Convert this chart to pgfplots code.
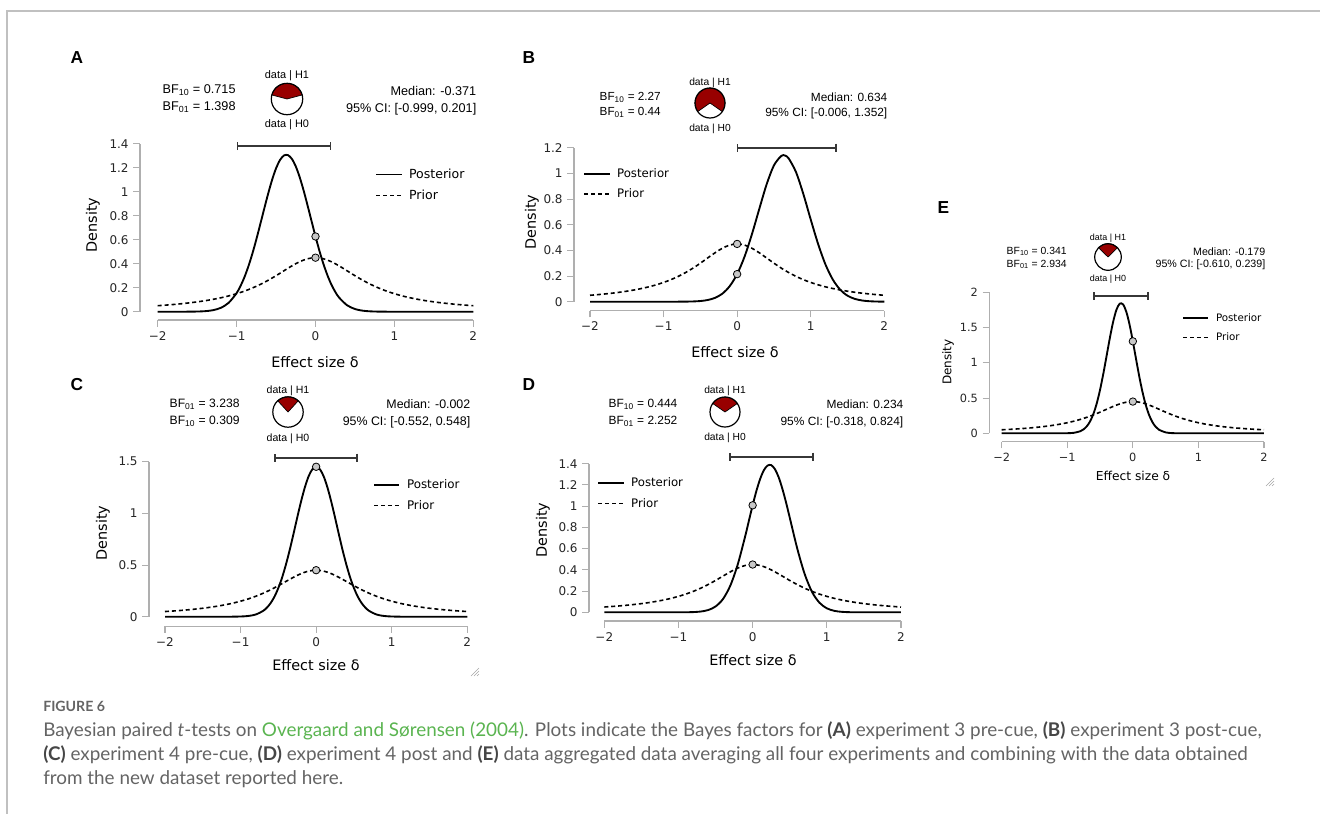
\documentclass[border=0pt]{standalone}
\usepackage{pgfplots}
\pgfplotsset{compat=1.18}
\usepackage{pgfplotstable}
\usepackage{fontspec}
\setmainfont{Liberation Sans}
\newfontfamily\djfont{DejaVu Sans}
\newfontfamily\capfont{Lato}
\usetikzlibrary{arrows.meta}

\definecolor{pied}{RGB}{152,0,0}
\definecolor{markgray}{RGB}{200,200,200}
\definecolor{axisgray}{RGB}{175,175,175}
\definecolor{bargray}{RGB}{55,55,55}
\definecolor{capgray}{RGB}{100,100,100}
\definecolor{capdark}{RGB}{70,70,70}
\definecolor{capgreen}{RGB}{90,180,80}
\definecolor{framegray}{RGB}{192,192,192}

% prior: Cauchy(0, 0.707), same in every panel
\pgfplotstableread{
x y
-2.0 0.0500
-1.9 0.0548
-1.8 0.0602
-1.7 0.0664
-1.6 0.0736
-1.5 0.0819
-1.4 0.0915
-1.3 0.1028
-1.2 0.1160
-1.1 0.1316
-1.0 0.1501
-0.9 0.1718
-0.8 0.1975
-0.7 0.2274
-0.6 0.2617
-0.5 0.3001
-0.4 0.3411
-0.3 0.3815
-0.2 0.4169
-0.1 0.4414
0.0 0.4502
0.1 0.4414
0.2 0.4169
0.3 0.3815
0.4 0.3411
0.5 0.3001
0.6 0.2617
0.7 0.2274
0.8 0.1975
0.9 0.1718
1.0 0.1501
1.1 0.1316
1.2 0.1160
1.3 0.1028
1.4 0.0915
1.5 0.0819
1.6 0.0736
1.7 0.0664
1.8 0.0602
1.9 0.0548
2.0 0.0500
}\prior

\pgfplotstableread{
x y
-2.0 0
-1.7 0
-1.6 0.0004
-1.5 0.0014
-1.4 0.0044
-1.3 0.0125
-1.2 0.0323
-1.1 0.0746
-1.0 0.155
-0.95 0.215
-0.9 0.289
-0.85 0.379
-0.8 0.484
-0.75 0.602
-0.7 0.729
-0.65 0.858
-0.6 0.984
-0.55 1.099
-0.5 1.195
-0.45 1.264
-0.4 1.302
-0.35 1.305
-0.3 1.274
-0.25 1.211
-0.2 1.120
-0.15 1.009
-0.1 0.884
-0.05 0.755
0.0 0.627
0.05 0.507
0.1 0.399
0.15 0.306
0.2 0.228
0.25 0.166
0.3 0.117
0.4 0.054
0.5 0.0224
0.6 0.0083
0.7 0.0028
0.8 0.0008
0.9 0.0002
1.0 0
2.0 0
}\postA

\pgfplotstableread{
x y
-2.0 0
-0.9 0
-0.8 0.0002
-0.7 0.0007
-0.6 0.0020
-0.5 0.0053
-0.4 0.0132
-0.3 0.030
-0.2 0.063
-0.1 0.122
0.0 0.215
0.1 0.350
0.2 0.524
0.3 0.721
0.4 0.913
0.5 1.062
0.6 1.136
0.65 1.139
0.7 1.117
0.8 1.010
0.9 0.839
1.0 0.641
1.1 0.451
1.2 0.291
1.3 0.173
1.4 0.094
1.5 0.047
1.6 0.0219
1.7 0.0093
1.8 0.0036
1.9 0.0013
2.0 0.0004
}\postB

\pgfplotstableread{
x y
-2.0 0
-1.2 0
-1.1 0.0005
-1.0 0.0020
-0.9 0.0069
-0.8 0.0211
-0.7 0.057
-0.65 0.089
-0.6 0.134
-0.55 0.196
-0.5 0.278
-0.45 0.380
-0.4 0.504
-0.35 0.645
-0.3 0.800
-0.25 0.960
-0.2 1.114
-0.15 1.250
-0.1 1.358
-0.05 1.427
0.0 1.451
0.05 1.427
0.1 1.358
0.15 1.250
0.2 1.114
0.25 0.960
0.3 0.800
0.35 0.645
0.4 0.504
0.45 0.380
0.5 0.278
0.55 0.196
0.6 0.134
0.65 0.089
0.7 0.057
0.8 0.0211
0.9 0.0069
1.0 0.0020
1.1 0.0005
1.2 0
2.0 0
}\postC

\pgfplotstableread{
x y
-2.0 0
-1.0 0
-0.9 0.0006
-0.8 0.0022
-0.7 0.0073
-0.6 0.0212
-0.5 0.055
-0.4 0.125
-0.3 0.253
-0.2 0.453
-0.1 0.718
-0.05 0.864
0.0 1.008
0.05 1.142
0.1 1.254
0.15 1.337
0.2 1.382
0.25 1.387
0.3 1.349
0.35 1.274
0.4 1.166
0.45 1.036
0.5 0.893
0.6 0.605
0.7 0.364
0.8 0.193
0.9 0.091
1.0 0.038
1.1 0.014
1.2 0.0046
1.3 0.0013
1.4 0.0003
1.5 0
2.0 0
}\postD

\pgfplotstableread{
x y
-2.0 0
-1.1 0
-1.0 0.0014
-0.9 0.0071
-0.8 0.030
-0.75 0.057
-0.7 0.102
-0.65 0.173
-0.6 0.279
-0.55 0.426
-0.5 0.617
-0.45 0.846
-0.4 1.100
-0.35 1.355
-0.3 1.583
-0.25 1.753
-0.2 1.839
-0.15 1.829
-0.1 1.725
-0.05 1.541
0.0 1.305
0.05 1.048
0.1 0.797
0.15 0.575
0.2 0.393
0.25 0.255
0.3 0.156
0.35 0.091
0.4 0.050
0.5 0.013
0.6 0.0027
0.7 0.0005
0.8 0
2.0 0
}\postE

\pgfplotsset{
  jasp/.style={
    scale only axis, anchor=south west,
    xmin=-2, xmax=2, ymin=0,
    axis lines*=left,
    axis line style={axisgray, line width=0.8pt},
    xtick={-2,-1,0,1,2}, xticklabels={−2,−1,0,1,2},
    tick align=outside, major tick length=5pt,
    tick style={axisgray, line width=0.8pt},
    ticklabel style={font=\djfont\fontsize{9}{10}\selectfont, text=black!85},
    clip=false,
    legend cell align=left,
    legend image code/.code={\draw[##1] (0pt,0pt) -- (19pt,0pt);},
    legend style={draw=none, fill=none, inner sep=0pt, row sep=3pt, column sep=3pt,
      anchor=west, font=\djfont\fontsize{9}{10}\selectfont},
  },
  post/.style={black, line width=1.4pt, smooth, mark=none},
  prior/.style={black, line width=1.2pt, dash pattern=on 3pt off 2.2pt, smooth, mark=none},
  dots/.style={only marks, mark=*, mark size=2.8pt,
    mark options={fill=markgray, draw=black, line width=0.6pt, solid}},
  ci/.style={bargray, line width=1.3pt, {Bar[width=6pt]}-{Bar[width=6pt]}, mark=none},
}

% pie: centre x, centre y, radius, BF10
\newcommand{\bfpie}[4]{%
  \pgfmathsetmacro{\h}{180*#4/(1+#4)}%
  \filldraw[fill=pied, draw=black, line width=0.5pt] (#1,#2) -- ++({-90-\h}:#3)
    arc[start angle={-90-\h}, end angle={-90+\h}, radius=#3] -- cycle;
  \draw[line width=0.9pt] (#1,#2) circle[radius=#3];
}

\begin{document}
\begin{tikzpicture}[x=0.75pt, y=-0.75pt]
\useasboundingbox (0,0) rectangle (1320,814);
\draw[framegray, line width=1.5pt] (1320,11) -- (7,11) -- (7,814);

\coordinate (oA) at (157.7,311.7);
\coordinate (oB) at (590,301.7);
\coordinate (oC) at (165,616.7);
\coordinate (oD) at (604.3,612.3);
\coordinate (oE) at (1001.7,433.3);

% ---------- A ----------
\begin{axis}[jasp, at={(oA)}, width=236.7pt, height=126pt, ymax=1.4,
  ytick={0,0.2,0.4,0.6,0.8,1,1.2,1.4}, yticklabels={0,0.2,0.4,0.6,0.8,1,1.2,1.4},
  axis x line shift=6.2pt, axis y line shift=13.3pt,
  legend style={at={(axis cs:0.754,1.056)}, font=\djfont\fontsize{9.4}{11}\selectfont}]
\addplot[post] table {\postA};
\addplot[prior] table {\prior};
\legend{Posterior,Prior}
\addplot[dots, forget plot] coordinates {(0,0.627) (0,0.4502)};
\addplot[ci, forget plot] coordinates {(-0.999,1.38) (0.201,1.38)};
\end{axis}
\node[anchor=base west, font=\bfseries\fontsize{13}{15}\selectfont] at (66,63.5) {A};
\node[anchor=base west, font=\fontsize{9.5}{11}\selectfont] at (158,93.5) {BF\textsubscript{10} = 0.715};
\node[anchor=base west, font=\fontsize{9.5}{11}\selectfont] at (158,110.5) {BF\textsubscript{01} = 1.398};
\node[anchor=base east, font=\fontsize{9.5}{11}\selectfont] at (481,95.5) {Median: -0.371};
\node[anchor=base east, font=\fontsize{9.5}{11}\selectfont] at (481,112.5) {95\% CI: [-0.999, 0.201]};
\bfpie{287}{99}{15.7}{0.715}
\node[anchor=base, font=\fontsize{8.2}{9}\selectfont] at (287,78) {data | H1};
\node[anchor=base, font=\fontsize{8.2}{9}\selectfont] at (287,127) {data | H0};
\node[rotate=90, font=\djfont\fontsize{10.8}{12}\selectfont] at (93,225) {Density};
\node[font=\djfont\fontsize{10.8}{12}\selectfont] at (315,362) {Effect size δ};

% ---------- B ----------
\begin{axis}[jasp, at={(oB)}, width=220.7pt, height=115.5pt, ymax=1.2,
  ytick={0,0.2,0.4,0.6,0.8,1,1.2}, yticklabels={0,0.2,0.4,0.6,0.8,1,1.2},
  axis x line shift=6.75pt, axis y line shift=12pt,
  legend style={at={(axis cs:-2.095,0.917)}, font=\djfont\fontsize{8.8}{10}\selectfont}]
\addplot[post] table {\postB};
\addplot[prior] table {\prior};
\legend{Posterior,Prior}
\addplot[dots, forget plot] coordinates {(0,0.215) (0,0.4502)};
\addplot[ci, forget plot] coordinates {(-0.006,1.2) (1.352,1.2)};
\end{axis}
\node[anchor=base west, font=\bfseries\fontsize{13}{15}\selectfont] at (518,63.5) {B};
\node[anchor=base west, font=\fontsize{8.8}{10}\selectfont] at (595,100.5) {BF\textsubscript{10} = 2.27};
\node[anchor=base west, font=\fontsize{8.8}{10}\selectfont] at (595,115.5) {BF\textsubscript{01} = 0.44};
\node[anchor=base east, font=\fontsize{8.9}{10}\selectfont] at (892,101.5) {Median: 0.634};
\node[anchor=base east, font=\fontsize{8.9}{10}\selectfont] at (892,116.5) {95\% CI: [-0.006, 1.352]};
\bfpie{710}{103}{15}{2.27}
\node[anchor=base, font=\fontsize{7.7}{9}\selectfont] at (710,85) {data | H1};
\node[anchor=base, font=\fontsize{7.7}{9}\selectfont] at (710,131) {data | H0};
\node[rotate=90, font=\djfont\fontsize{10.8}{12}\selectfont] at (532,222) {Density};
\node[font=\djfont\fontsize{10.8}{12}\selectfont] at (735,352) {Effect size δ};

% ---------- C ----------
\begin{axis}[jasp, at={(oC)}, width=226.7pt, height=116.25pt, ymax=1.5,
  ytick={0,0.5,1,1.5}, yticklabels={0,0.5,1,1.5},
  axis x line shift=7pt, axis y line shift=12pt,
  legend style={at={(axis cs:0.751,1.173)}, font=\djfont\fontsize{8.9}{10}\selectfont}]
\addplot[post] table {\postC};
\addplot[prior] table {\prior};
\legend{Posterior,Prior}
\addplot[dots, forget plot] coordinates {(0,1.451) (0,0.4502)};
\addplot[ci, forget plot] coordinates {(-0.552,1.539) (0.548,1.539)};
\end{axis}
\node[anchor=base west, font=\bfseries\fontsize{13}{15}\selectfont] at (66,390.5) {C};
\node[anchor=base west, font=\fontsize{9.1}{10}\selectfont] at (165,407.5) {BF\textsubscript{01} = 3.238};
\node[anchor=base west, font=\fontsize{9.1}{10}\selectfont] at (165,424.5) {BF\textsubscript{10} = 0.309};
\node[anchor=base east, font=\fontsize{9.3}{10}\selectfont] at (475,408.5) {Median: -0.002};
\node[anchor=base east, font=\fontsize{9.3}{10}\selectfont] at (475,425.5) {95\% CI: [-0.552, 0.548]};
\bfpie{288}{412}{15.2}{0.309}
\node[anchor=base, font=\fontsize{7.9}{9}\selectfont] at (288,393) {data | H1};
\node[anchor=base, font=\fontsize{7.9}{9}\selectfont] at (288,441) {data | H0};
\node[rotate=90, font=\djfont\fontsize{10.8}{12}\selectfont] at (103,533) {Density};
\node[font=\djfont\fontsize{10.8}{12}\selectfont] at (316,665) {Effect size δ};

% ---------- D ----------
\begin{axis}[jasp, at={(oD)}, width=222.5pt, height=111.45pt, ymax=1.4,
  ytick={0,0.2,0.4,0.6,0.8,1,1.2,1.4}, yticklabels={0,0.2,0.4,0.6,0.8,1,1.2,1.4},
  axis x line shift=6.5pt, axis y line shift=11.5pt,
  legend style={at={(axis cs:-2.098,1.12)}, font=\djfont\fontsize{8.8}{10}\selectfont}]
\addplot[post] table {\postD};
\addplot[prior] table {\prior};
\legend{Posterior,Prior}
\addplot[dots, forget plot] coordinates {(0,1.008) (0,0.4502)};
\addplot[ci, forget plot] coordinates {(-0.318,1.466) (0.824,1.466)};
\end{axis}
\node[anchor=base west, font=\bfseries\fontsize{13}{15}\selectfont] at (518,390.5) {D};
\node[anchor=base west, font=\fontsize{8.95}{10}\selectfont] at (604,407.5) {BF\textsubscript{10} = 0.444};
\node[anchor=base west, font=\fontsize{8.95}{10}\selectfont] at (604,424.5) {BF\textsubscript{01} = 2.252};
\node[anchor=base east, font=\fontsize{8.95}{10}\selectfont] at (908,408.5) {Median: 0.234};
\node[anchor=base east, font=\fontsize{8.95}{10}\selectfont] at (908,425.5) {95\% CI: [-0.318, 0.824]};
\bfpie{725}{412}{15}{0.444}
\node[anchor=base, font=\fontsize{7.7}{9}\selectfont] at (725,393) {data | H1};
\node[anchor=base, font=\fontsize{7.7}{9}\selectfont] at (725,440) {data | H0};
\node[rotate=90, font=\djfont\fontsize{10.8}{12}\selectfont] at (543,530) {Density};
\node[font=\djfont\fontsize{10.8}{12}\selectfont] at (753,660) {Effect size δ};

% ---------- E ----------
\begin{axis}[jasp, at={(oE)}, width=196.7pt, height=105.75pt, ymax=2,
  ytick={0,0.5,1,1.5,2}, yticklabels={0,0.5,1,1.5,2},
  ticklabel style={font=\djfont\fontsize{8.5}{9}\selectfont},
  axis x line shift=6.3pt, axis y line shift=9.3pt,
  legend style={at={(axis cs:0.748,1.494)}, font=\djfont\fontsize{7.7}{9}\selectfont}]
\addplot[post] table {\postE};
\addplot[prior] table {\prior};
\legend{Posterior,Prior}
\addplot[dots, forget plot] coordinates {(0,1.305) (0,0.4502)};
\addplot[ci, forget plot] coordinates {(-0.610,1.948) (0.239,1.948)};
\end{axis}
\node[anchor=base west, font=\bfseries\fontsize{13}{15}\selectfont] at (933,213.5) {E};
\node[anchor=base west, font=\fontsize{7.8}{9}\selectfont] at (1002,254) {BF\textsubscript{10} = 0.341};
\node[anchor=base west, font=\fontsize{7.8}{9}\selectfont] at (1002,267) {BF\textsubscript{01} = 2.934};
\node[anchor=base east, font=\fontsize{8}{9}\selectfont] at (1270,255) {Median: -0.179};
\node[anchor=base east, font=\fontsize{8}{9}\selectfont] at (1270,267) {95\% CI: [-0.610, 0.239]};
\bfpie{1108}{257}{13.3}{0.341}
\node[anchor=base, font=\fontsize{6.7}{8}\selectfont] at (1108,240.5) {data | H1};
\node[anchor=base, font=\fontsize{6.7}{8}\selectfont] at (1108,281.5) {data | H0};
\node[rotate=90, font=\djfont\fontsize{9}{10}\selectfont] at (948,362) {Density};
\node[font=\djfont\fontsize{9.2}{10}\selectfont] at (1133,476) {Effect size δ};

% resize grips
\foreach \gx/\gy in {475/672, 1270/482} {
  \draw[gray!70, line width=0.5pt] (\gx-4,\gy+4) -- (\gx+4,\gy-4);
  \draw[gray!70, line width=0.5pt] (\gx-1,\gy+4) -- (\gx+4,\gy-1);
  \draw[gray!70, line width=0.5pt] (\gx+2,\gy+4) -- (\gx+4,\gy+2);
}

% caption
\node[anchor=base west, inner sep=0pt, font=\capfont\bfseries\fontsize{10.6}{12}\selectfont, text=capgray] at (43,711.7) {FIGURE 6};
\node[anchor=base west, inner sep=0pt, font=\capfont\fontsize{14.15}{16}\selectfont, text=capgray] at (43,736.7)
  {Bayesian paired \textit{t}-tests on \textcolor{capgreen}{Overgaard and Sørensen (2004)}. Plots indicate the Bayes factors for \textcolor{capdark}{\textbf{(A)}} experiment 3 pre-cue, \textcolor{capdark}{\textbf{(B)}} experiment 3 post-cue,};
\node[anchor=base west, inner sep=0pt, font=\capfont\fontsize{14.15}{16}\selectfont, text=capgray] at (43,760)
  {\textcolor{capdark}{\textbf{(C)}} experiment 4 pre-cue, \textcolor{capdark}{\textbf{(D)}} experiment 4 post and \textcolor{capdark}{\textbf{(E)}} data aggregated data averaging all four experiments and combining with the data obtained};
\node[anchor=base west, inner sep=0pt, font=\capfont\fontsize{14.15}{16}\selectfont, text=capgray] at (43,784)
  {from the new dataset reported here.};
\end{tikzpicture}
\end{document}
